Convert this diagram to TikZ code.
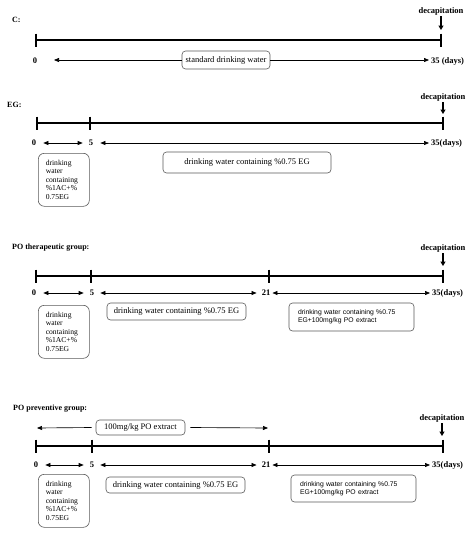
\documentclass[tikz,border=0pt]{standalone}
\usepackage{fontspec}
\setmainfont{Liberation Serif}
\setsansfont{Liberation Sans}
\usetikzlibrary{arrows.meta}
\begin{document}
\begin{tikzpicture}[x=1pt,y=-1pt,
 tl/.style={line width=1.5pt},
 tk/.style={line width=1.5pt},
 span/.style={line width=0.65pt,{Triangle[length=5pt,width=4pt]}-{Triangle[length=5pt,width=4pt]}},
 half/.style={line width=0.65pt,-{Triangle[length=5pt,width=4pt]}},
 lbl/.style={font=\bfseries\fontsize{8.5}{10}\selectfont, inner sep=1pt},
 ttl/.style={font=\bfseries\fontsize{8}{10}\selectfont, inner sep=0pt, anchor=west},
 dec/.style={line width=1.3pt,-{Triangle[length=4.5pt,width=5pt]}},
 box/.style={draw=black!65, line width=0.6pt, rounded corners=3.5pt, inner sep=0pt, font=\fontsize{8.5}{10}\selectfont},
 sbox/.style={draw=black!65, line width=0.6pt, rounded corners=6pt, align=left, text width=36pt, inner xsep=7.5pt, inner ysep=0pt, minimum height=53pt, anchor=north west, font=\fontsize{7.6}{8.6}\selectfont},
 abox/.style={box, align=left, text width=107pt, inner xsep=9pt, font=\sffamily\fontsize{6.8}{8}\selectfont}
]
\useasboundingbox (0,0) rectangle (474,536);

% ---------------- C ----------------
\node[ttl] (ctitle) at (12,20) {C:};
\coordinate (c0) at (36,40);
\coordinate (c35) at (441,40);
\draw[tl] (c0) -- (c35);
\draw[tk] ([yshift=6.5pt]c0) -- ([yshift=-6.5pt]c0);
\draw[tk] ([yshift=6.5pt]c35) -- ([yshift=-6.5pt]c35);
\node[lbl] (cdec) at (441,11) {decapitation};
\coordinate (cdt) at (441,30);
\draw[dec] (cdec.south) -- (cdt);
\node[lbl] (cl0) at (35,61) {0};
\node[lbl,anchor=west] (cl35) at (430,61) {35 (days)};
\node[box, minimum width=88pt, minimum height=18pt] (cbox) at (226,60) {standard drinking water};
\coordinate (ca) at (54,60);
\coordinate (cb) at (429,60);
\draw[half] (cbox.west) -- (ca);
\draw[half] (cbox.east) -- (cb);

% ---------------- EG ----------------
\node[ttl] (etitle) at (7,105) {EG:};
\coordinate (e0) at (37,123);
\coordinate (e5) at (90,123);
\coordinate (e35) at (443,123);
\draw[tl] (e0) -- (e35);
\foreach \p in {e0,e5,e35}{\draw[tk] ([yshift=6.5pt]\p) -- ([yshift=-6.5pt]\p);}
\node[lbl] (edec) at (443,97) {decapitation};
\coordinate (edt) at (443,114);
\draw[dec] (edec.south) -- (edt);
\node[lbl] (el0) at (34,143) {0};
\node[lbl] (el5) at (91,143) {5};
\node[lbl,anchor=west] (el35) at (430,143) {35(days)};
\draw[span] ([xshift=6pt]el0.east) -- ([xshift=-5pt]el5.west);
\draw[span] ([xshift=6pt]el5.east) -- ([xshift=-1pt]el35.west);
\node[sbox] (ebox1) at (38,153) {drinking\\water\\containing\\\%1AC+\%\\0.75EG};
\node[box, minimum width=168pt, minimum height=21pt] (ebox2) at (247,162.5) {drinking water containing \%0.75 EG};

% ---------------- PO therapeutic ----------------
\node[ttl] (ttitle) at (12,248) {PO therapeutic group:};
\coordinate (t0) at (36,276);
\coordinate (t5) at (91,276);
\coordinate (t21) at (269,276);
\coordinate (t35) at (443,276);
\draw[tl] (t0) -- (t35);
\foreach \p in {t0,t5,t21,t35}{\draw[tk] ([yshift=6.5pt]\p) -- ([yshift=-6.5pt]\p);}
\node[lbl] (tdec) at (443,248) {decapitation};
\coordinate (tdt) at (443,266);
\draw[dec] (tdec.south) -- (tdt);
\node[lbl] (tl0) at (34,293) {0};
\node[lbl] (tl5) at (92,293) {5};
\node[lbl] (tl21) at (266,293) {21};
\node[lbl,anchor=west] (tl35) at (431,293) {35(days)};
\draw[span] ([xshift=6pt]tl0.east) -- ([xshift=-5pt]tl5.west);
\draw[span] ([xshift=5pt]tl5.east) -- ([xshift=-4pt]tl21.west);
\draw[span] ([xshift=1pt]tl21.east) -- ([xshift=-1pt]tl35.west);
\node[sbox] (tbox1) at (38,305) {drinking\\water\\containing\\\%1AC+\%\\0.75EG};
\node[box, minimum width=139pt, minimum height=17pt] (tbox2) at (176.5,311.5) {drinking water containing \%0.75 EG};
\node[abox, minimum height=28pt] (tbox3) at (351.5,317) {drinking water containing \%0.75\\EG+100mg/kg PO extract};

% ---------------- PO preventive ----------------
\node[ttl] (ptitle) at (13,409) {PO preventive group:};
\node[box, minimum width=89pt, minimum height=15pt] (pbox0) at (140.5,427.5) {100mg/kg PO extract};
\coordinate (pa) at (37,428);
\coordinate (pb) at (268,428);
\draw[half] ([xshift=-4pt]pbox0.west) -- (pa);
\draw[half] ([xshift=5pt]pbox0.east) -- (pb);
\coordinate (p0) at (36,446);
\coordinate (p5) at (92,446);
\coordinate (p21) at (269,446);
\coordinate (p35) at (443,446);
\draw[tl] (p0) -- (p35);
\foreach \p in {p0,p5,p21,p35}{\draw[tk] ([yshift=6.5pt]\p) -- ([yshift=-6.5pt]\p);}
\node[lbl] (pdec) at (442,418) {decapitation};
\coordinate (pdt) at (442,436);
\draw[dec] (pdec.south) -- (pdt);
\node[lbl] (pl0) at (36,465) {0};
\node[lbl] (pl5) at (92,465) {5};
\node[lbl] (pl21) at (266,465) {21};
\node[lbl,anchor=west] (pl35) at (431,465) {35(days)};
\draw[span] ([xshift=6pt]pl0.east) -- ([xshift=-5pt]pl5.west);
\draw[span] ([xshift=5pt]pl5.east) -- ([xshift=-4pt]pl21.west);
\draw[span] ([xshift=1pt]pl21.east) -- ([xshift=-1pt]pl35.west);
\node[sbox] (pbox1) at (38,474) {drinking\\water\\containing\\\%1AC+\%\\0.75EG};
\node[box, minimum width=139pt, minimum height=16pt] (pbox2) at (175.5,485) {drinking water containing \%0.75 EG};
\node[abox, minimum height=27pt] (pbox3) at (353.5,488.5) {drinking water containing \%0.75\\EG+100mg/kg PO extract};
\end{tikzpicture}
\end{document}
